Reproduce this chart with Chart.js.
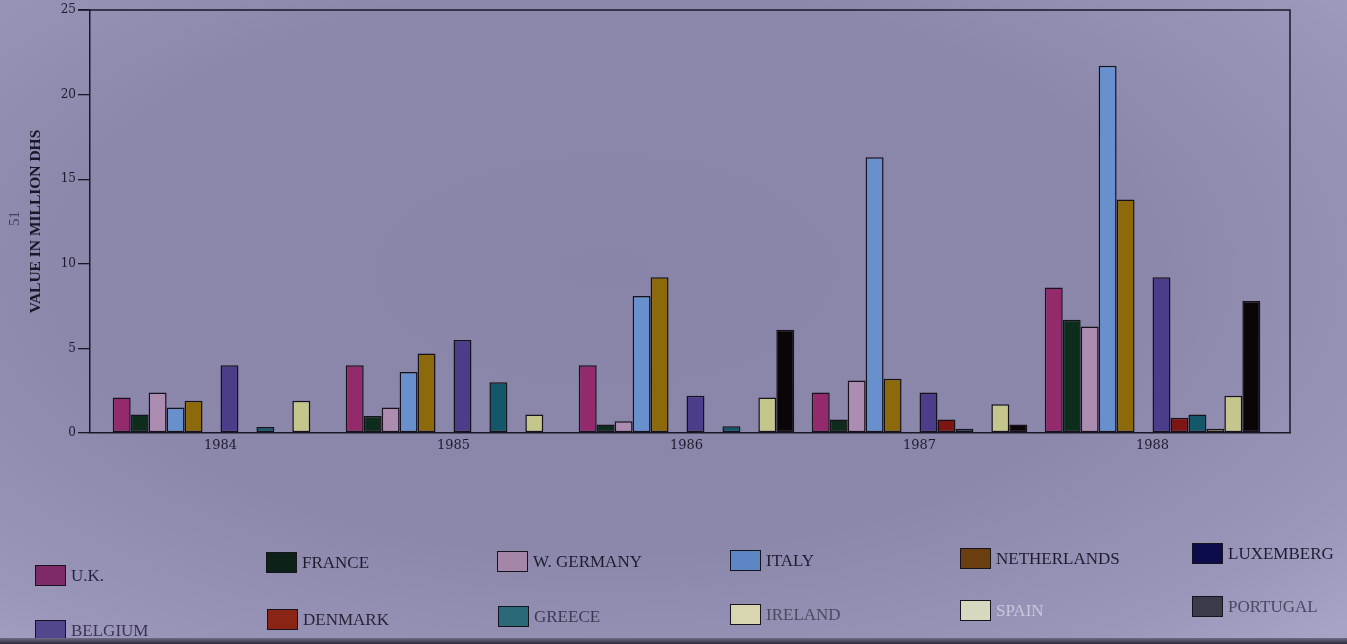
<!DOCTYPE html>
<html>
<head>
<meta charset="utf-8">
<script src="https://cdn.jsdelivr.net/npm/chart.js@4.4.0/dist/chart.umd.min.js"></script>
<style>
html,body{margin:0;padding:0;}
body{width:1347px;height:644px;overflow:hidden;position:relative;
  background:radial-gradient(ellipse 75% 80% at 45% 42%, #8985a9 0%, #8c88ac 55%, #9996ba 85%, #a6a3c5 100%);
  font-family:"Liberation Serif","DejaVu Serif",serif;}
#wrap{position:absolute;left:0;top:0;width:1347px;height:644px;}
#legend{position:absolute;left:0;top:0;width:1347px;height:644px;pointer-events:none;}
.leg{position:absolute;display:flex;align-items:center;font-size:17px;color:#1e1b2e;white-space:nowrap;}
.sw{width:31px;height:21px;border:1.5px solid #17131d;box-sizing:border-box;margin-right:5px;}
#pg{position:absolute;left:2px;top:210px;width:24px;text-align:center;transform:rotate(-90deg);
  font-size:15px;color:#45425c;}
#edge{position:absolute;left:0;top:638px;width:1347px;height:6px;
  background:linear-gradient(#6e6b86,#2c2a3a);}
</style>
</head>
<body>
<div id="wrap"><canvas id="c" width="1347" height="644"></canvas></div>
<div id="legend"></div>
<div id="pg">51</div>
<div id="edge"></div>
<script>
// ---- data ----
const years = [1984, 1985, 1986, 1987, 1988];
const seriesNames = ["U.K.", "FRANCE", "W. GERMANY", "ITALY", "NETHERLANDS", "LUXEMBERG",
                     "BELGIUM", "DENMARK", "GREECE", "IRELAND", "SPAIN", "PORTUGAL"];
const uk          = [2.1, 4.0, 4.0, 2.4, 8.6];
const france      = [1.1, 1.0, 0.5, 0.8, 6.7];
const wGermany    = [2.4, 1.5, 0.7, 3.1, 6.3];
const italy       = [1.5, 3.6, 8.1, 16.3, 21.7];
const netherlands = [1.9, 4.7, 9.2, 3.2, 13.8];
const luxemberg   = [null, null, null, null, null];
const belgium     = [4.0, 5.5, 2.2, 2.4, 9.2];
const denmark     = [null, null, null, 0.8, 0.9];
const greece      = [0.35, 3.0, 0.4, 0.25, 1.1];
const ireland     = [null, null, null, null, 0.25];
const spain       = [1.9, 1.1, 2.1, 1.7, 2.2];
const portugal    = [null, null, 6.1, 0.5, 7.8];
const seriesValues = [uk, france, wGermany, italy, netherlands, luxemberg,
                      belgium, denmark, greece, ireland, spain, portugal];
const yTicks = [0, 5, 10, 15, 20, 25];
const yTitle = "VALUE IN MILLION DHS";

// ---- styles ----
const barColors = ["#922a6c", "#0e2c1c", "#ad8cb2", "#6890cc", "#8c6a0c", "#101048",
                   "#4c3d8a", "#7c1612", "#135868", "#b0a850", "#c4c68c", "#0a0608"];
const legendColors = ["#7e2a66", "#0c2218", "#a585a8", "#5f86c4", "#6b3e10", "#0c0c4a",
                      "#52468c", "#8a2414", "#2a6a78", "#d8d6b0", "#d6d8c0", "#3a3a4a"];
const legendTextColors = ["#2a2540", "#1e1b2e", "#1e1b2e", "#1e1b2e", "#1e1b2e", "#1e1b2e",
                          "#3a3352", "#2a2236", "#3a3a52", "#4a4a5e", "#c8c8dc", "#4a4860"];
const legendPos = [[35,577],[266,564],[497,563],[730,562],[960,560],[1192,555],
                   [35,632],[267,621],[498,618],[730,616],[960,612],[1192,608]];

const frame = {
  id: 'frame',
  afterDraw(chart) {
    const {ctx, chartArea: a} = chart;
    ctx.save();
    ctx.strokeStyle = '#1a1826';
    ctx.lineWidth = 1.5;
    ctx.beginPath();
    ctx.moveTo(a.left - 12, a.top);
    ctx.lineTo(a.right, a.top);
    ctx.lineTo(a.right, a.bottom);
    ctx.stroke();
    ctx.restore();
  }
};

new Chart(document.getElementById('c'), {
  type: 'bar',
  data: {
    labels: years,
    datasets: seriesNames.map((name, k) => ({
      label: name,
      data: seriesValues[k].map((v, i) => ({x: years[i], y: v})),
      backgroundColor: barColors[k],
      borderColor: '#16111a',
      borderWidth: 1.5,
      borderSkipped: false,
      categoryPercentage: 0.925,
      barPercentage: 1.0
    }))
  },
  options: {
    responsive: false,
    animation: false,
    layout: {padding: {left: 0, right: 57, top: 10, bottom: 0}},
    plugins: {legend: {display: false}, tooltip: {enabled: false}},
    scales: {
      x: {
        type: 'linear',
        min: 1983.44,
        max: 1988.59,
        offset: false,
        afterBuildTicks: s => { s.ticks = years.map(v => ({value: v})); },
        afterFit: s => { s.height = 211; },
        grid: {display: false, drawTicks: false},
        border: {display: true, color: '#1a1826', width: 1.5},
        ticks: {
          callback: v => String(v),
          padding: 5,
          color: '#1e1b2c',
          font: {family: '"DejaVu Serif", serif', size: 13}
        }
      },
      y: {
        min: 0,
        max: 25,
        afterBuildTicks: s => { s.ticks = yTicks.map(v => ({value: v})); },
        afterFit: s => { s.width = 90; },
        grid: {display: true, drawOnChartArea: false, drawTicks: true, tickLength: 12,
               color: '#1a1826', lineWidth: 1.3},
        border: {display: true, color: '#1a1826', width: 1.5},
        ticks: {
          padding: 2,
          color: '#1e1b2c',
          font: {family: '"DejaVu Serif", serif', size: 12}
        },
        title: {
          display: true,
          text: yTitle,
          color: '#1a1828',
          padding: {top: 27, bottom: 0},
          font: {family: '"Liberation Serif", serif', size: 15.5, weight: 'bold'}
        }
      }
    }
  },
  plugins: [frame]
});

// HTML legend built from series names
const lg = document.getElementById('legend');
seriesNames.forEach((name, k) => {
  const d = document.createElement('div');
  d.className = 'leg';
  d.style.left = legendPos[k][0] + 'px';
  d.style.top = (legendPos[k][1] - 12) + 'px';
  d.style.color = legendTextColors[k];
  const sw = document.createElement('span');
  sw.className = 'sw';
  sw.style.background = legendColors[k];
  const t = document.createElement('span');
  t.textContent = name;
  d.appendChild(sw);
  d.appendChild(t);
  lg.appendChild(d);
});
</script>
</body>
</html>
